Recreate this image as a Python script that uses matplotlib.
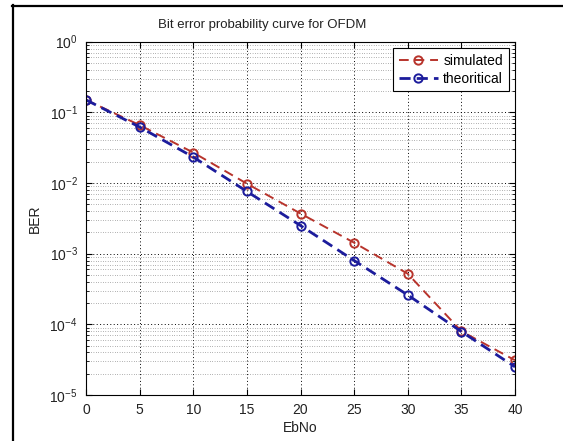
import matplotlib
matplotlib.use("Agg")
import matplotlib.pyplot as plt
from matplotlib.lines import Line2D
from matplotlib.ticker import LogLocator, MultipleLocator, NullFormatter

# values
ebno = [0, 5, 10, 15, 20, 25, 30, 35, 40]
ber_simulated = [0.15, 0.066, 0.027, 0.0098, 0.0037, 0.00143, 0.00052, 0.000080, 0.000031]
ber_theoretical = [0.15, 0.062, 0.0233, 0.0076, 0.0025, 0.00080, 0.00026, 0.000079, 0.000025]

plt.rcParams['font.family'] = ['Liberation Sans Narrow', 'Liberation Sans', 'DejaVu Sans']
plt.rcParams['font.size'] = 10
plt.rcParams['mathtext.default'] = 'regular'

W, H = 563, 441
fig = plt.figure(figsize=(W / 100, H / 100), dpi=100)
fig.patch.set_facecolor('white')

# axes placed like the MATLAB figure
left, right, top, bottom = 86, 515, 41.7, 395
ax = fig.add_axes([left / W, 1 - bottom / H, (right - left) / W, (bottom - top) / H])

ax.semilogy(ebno, ber_simulated, color='#b8342c', linestyle=(0, (5, 3)), linewidth=1.4,
            marker='o', markersize=6, markerfacecolor='none', markeredgewidth=1.4,
            label='simulated')
ax.semilogy(ebno, ber_theoretical, color='#1c1c9c', linestyle=(0, (4, 2.2)), linewidth=2.0,
            marker='o', markersize=6, markerfacecolor='none', markeredgewidth=1.4,
            label='theoritical')

ax.set_xlim(0, 40)
ax.set_ylim(1e-5, 1)
ax.xaxis.set_major_locator(MultipleLocator(5))
ax.yaxis.set_major_locator(LogLocator(base=10, numticks=10))
ax.yaxis.set_minor_locator(LogLocator(base=10, subs=range(2, 10), numticks=20))
ax.yaxis.set_minor_formatter(NullFormatter())

ax.tick_params(which='both', direction='in', top=True, right=True, colors='k', labelcolor='#222222')
ax.tick_params(which='major', length=4, width=0.8, labelsize=10, pad=6)
ax.tick_params(which='minor', length=2.5, width=0.6)

ax.grid(True, which='major', linestyle=(0, (1, 2.5)), color='k', linewidth=0.7)
ax.grid(True, which='minor', axis='y', linestyle=(0, (1, 2.8)), color='#444444', linewidth=0.45)
for s in ax.spines.values():
    s.set_linewidth(0.8)
    s.set_color('k')

ax.set_xlabel('EbNo', fontsize=10, color='#222222', labelpad=3)
ax.set_ylabel('BER', fontsize=10, color='#222222')
ax.yaxis.set_label_coords((42 - left) / (right - left), 0.5)

fig.text(262 / W, 1 - 25 / H, 'Bit error probability curve for OFDM', fontsize=9.5,
         ha='center', va='center', color='#222222')

leg = ax.legend(loc='upper right', fancybox=False, framealpha=1, edgecolor='k',
                fontsize=10, handlelength=2.8, borderaxespad=0.45, borderpad=0.4,
                labelspacing=0.3, handletextpad=0.4)
leg.get_frame().set_linewidth(0.8)

# border of the screenshot
fig.add_artist(Line2D([12.7 / W, 12.7 / W], [0, 1 - 5 / H], color='k', linewidth=1.6))
fig.add_artist(Line2D([12 / W, 1], [1 - 6 / H, 1 - 6 / H], color='k', linewidth=1.6))

fig.savefig('out.png', dpi=100)
